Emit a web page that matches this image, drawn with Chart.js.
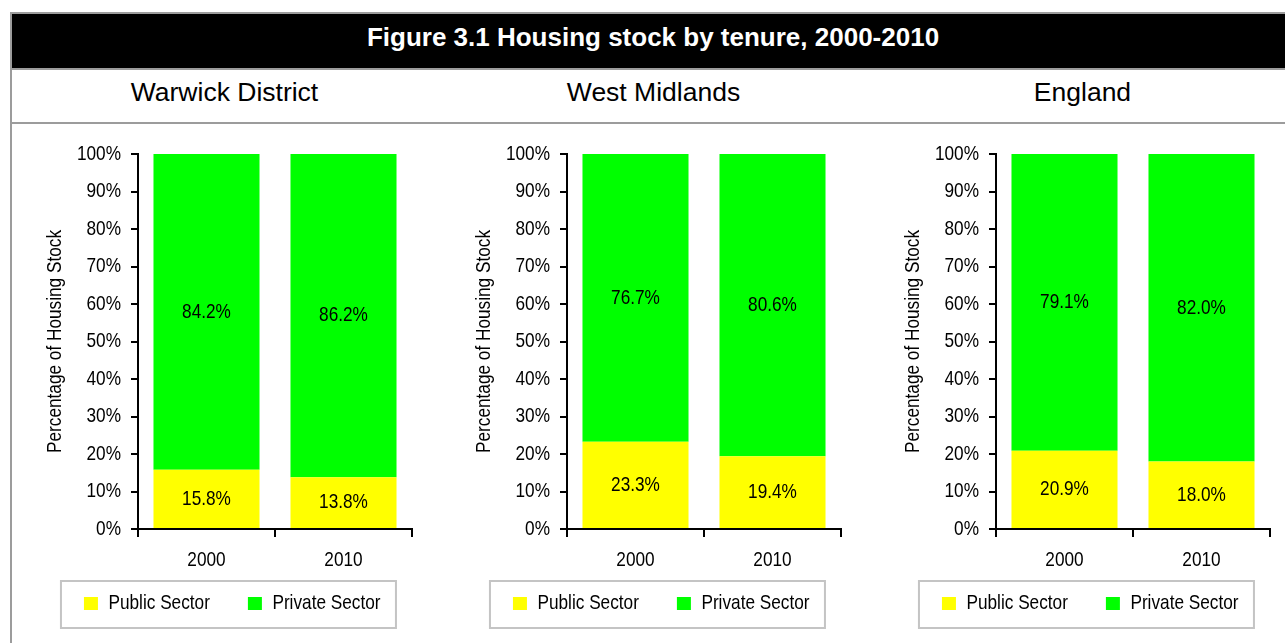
<!DOCTYPE html>
<html><head><meta charset="utf-8">
<script src="https://cdn.jsdelivr.net/npm/chart.js@4.4.1/dist/chart.umd.min.js"></script>
<style>
html,body{margin:0;padding:0;background:#fff;width:1285px;height:643px;overflow:hidden;font-family:"Liberation Sans",Arial,sans-serif;}
#frame{position:absolute;left:10px;top:12px;width:1310px;height:700px;border:2px solid #9c9c9c;box-sizing:border-box;}
#hdr{position:absolute;left:12px;top:14px;width:1300px;height:54px;background:#000;}
.sep{position:absolute;left:12px;width:1300px;height:2px;background:#9c9c9c;}
#title{position:absolute;left:0;width:1306px;top:14px;height:46px;line-height:46px;text-align:center;color:#fff;font-weight:bold;font-size:26px;white-space:nowrap;}
.sub{position:absolute;top:70px;height:44px;line-height:44px;width:429px;text-align:center;font-size:26.5px;color:#000;white-space:nowrap;}
.cv{position:absolute;top:125px;width:429px;height:518px;}
</style>
</head><body>
<div id="frame"></div>
<div id="hdr"></div>
<div class="sep" style="top:68px"></div>
<div class="sep" style="top:122px"></div>
<div id="title">Figure 3.1 Housing stock by tenure, 2000-2010</div>
<div id="subs"></div>
<div id="charts"></div>
<script>
const regions = ['Warwick District', 'West Midlands', 'England'];
const categories = ['2000', '2010'];
const seriesNames = ['Public Sector', 'Private Sector'];
const publicWarwick = [15.8, 13.8];
const privateWarwick = [84.2, 86.2];
const publicWestMidlands = [23.3, 19.4];
const privateWestMidlands = [76.7, 80.6];
const publicEngland = [20.9, 18.0];
const privateEngland = [79.1, 82.0];
const yAxisTitle = 'Percentage of Housing Stock';
const yMin = 0, yMax = 100, yStep = 10;

const publicSeries = [publicWarwick, publicWestMidlands, publicEngland];
const privateSeries = [privateWarwick, privateWestMidlands, privateEngland];

// chart text in the original is a narrow sans; no narrow face is installed,
// so canvas text is drawn with a horizontal condensation factor
const COND = 0.82;
const FONT = '"Liberation Sans", Arial, sans-serif';
const FS = 21;

function condense(ctx, k) {
  const ft = ctx.fillText.bind(ctx);
  const mt = ctx.measureText.bind(ctx);
  ctx.fillText = function (t, x, y) {
    this.save();
    this.translate(x, y);
    this.scale(k, 1);
    ft(t, 0, 0);
    this.restore();
  };
  ctx.measureText = function (t) {
    const m = mt(t);
    return {
      width: m.width * k,
      actualBoundingBoxLeft: m.actualBoundingBoxLeft * k,
      actualBoundingBoxRight: m.actualBoundingBoxRight * k,
      actualBoundingBoxAscent: m.actualBoundingBoxAscent,
      actualBoundingBoxDescent: m.actualBoundingBoxDescent,
      fontBoundingBoxAscent: m.fontBoundingBoxAscent,
      fontBoundingBoxDescent: m.fontBoundingBoxDescent
    };
  };
}

Chart.defaults.font.family = FONT;
Chart.defaults.color = '#000';

const valueLabels = {
  id: 'valueLabels',
  afterDatasetsDraw(chart) {
    const ctx = chart.ctx;
    ctx.save();
    ctx.font = FS + 'px ' + FONT;
    ctx.fillStyle = '#000';
    ctx.textAlign = 'center';
    ctx.textBaseline = 'middle';
    chart.data.datasets.forEach((ds, i) => {
      chart.getDatasetMeta(i).data.forEach((bar, j) => {
        const p = bar.getCenterPoint();
        ctx.fillText(ds.data[j].toFixed(1) + '%', p.x, p.y);
      });
    });
    ctx.restore();
  }
};

// keep the category labels from being clipped by the (short) x-axis box
const labelRoom = {
  id: 'labelRoom',
  afterLayout(chart) {
    const x = chart.scales.x;
    x.bottom = x.top + 50;
  }
};

const legendFrame = {
  id: 'legendFrame',
  afterDraw(chart) {
    const hb = chart.legend && chart.legend.legendHitBoxes;
    if (!hb || !hb.length) return;
    const ctx = chart.ctx;
    const cy = hb[0].top + hb[0].height / 2;
    const left = hb[0].left - 23;
    ctx.save();
    ctx.strokeStyle = '#c4c4c4';
    ctx.lineWidth = 2;
    ctx.strokeRect(left, cy - 22.5, 335, 47);
    ctx.restore();
  }
};

const subs = document.getElementById('subs');
const charts = document.getElementById('charts');
regions.forEach((name, i) => {
  const s = document.createElement('div');
  s.className = 'sub';
  s.style.left = (10 + i * 429) + 'px';
  s.textContent = name;
  subs.appendChild(s);

  const wrap = document.createElement('div');
  wrap.className = 'cv';
  wrap.style.left = (10 + i * 429) + 'px';
  const cv = document.createElement('canvas');
  wrap.appendChild(cv);
  charts.appendChild(wrap);
  condense(cv.getContext('2d'), COND);

  new Chart(cv, {
    type: 'bar',
    data: {
      labels: categories,
      datasets: [
        { label: seriesNames[0], data: publicSeries[i], backgroundColor: '#FFFF00', borderWidth: 0 },
        { label: seriesNames[1], data: privateSeries[i], backgroundColor: '#00FF00', borderWidth: 0 }
      ]
    },
    options: {
      responsive: true,
      maintainAspectRatio: false,
      animation: false,
      events: [],
      layout: { padding: { left: 26, right: 10.5, top: 29, bottom: 29.5 - FS / 2 } },
      datasets: { bar: { categoryPercentage: 1, barPercentage: 0.774 } },
      scales: {
        x: {
          stacked: true,
          afterFit: sc => { sc.height = 36.5 - FS / 2; },
          grid: { offset: true, drawOnChartArea: false, drawTicks: true, tickLength: 8, color: '#000', lineWidth: 2 },
          border: { display: true, color: '#000', width: 2 },
          ticks: { font: { size: FS }, color: '#000', padding: 23 - FS * 0.6, maxRotation: 0 }
        },
        y: {
          stacked: true,
          min: yMin, max: yMax,
          afterFit: sc => { sc.width = 102; },
          grid: { drawOnChartArea: false, drawTicks: true, tickLength: 7, color: '#000', lineWidth: 2 },
          border: { display: true, color: '#000', width: 2 },
          ticks: { stepSize: yStep, font: { size: FS }, color: '#000', padding: 10, callback: v => v + '%' },
          title: { display: true, text: yAxisTitle, font: { size: FS, lineHeight: 1 }, color: '#000', padding: { top: 19 - FS / 2, bottom: 0 } }
        },
        yRight: {
          type: 'linear',
          position: 'right',
          display: true,
          afterFit: sc => { sc.width = 16.5; },
          grid: { display: false },
          border: { display: false },
          ticks: { display: false }
        }
      },
      plugins: {
        legend: {
          position: 'bottom',
          labels: { boxWidth: 14, boxHeight: 13, padding: 38, color: '#000', font: { size: FS } }
        },
        tooltip: { enabled: false }
      }
    },
    plugins: [valueLabels, labelRoom, legendFrame]
  });
});
</script>
</body></html>
